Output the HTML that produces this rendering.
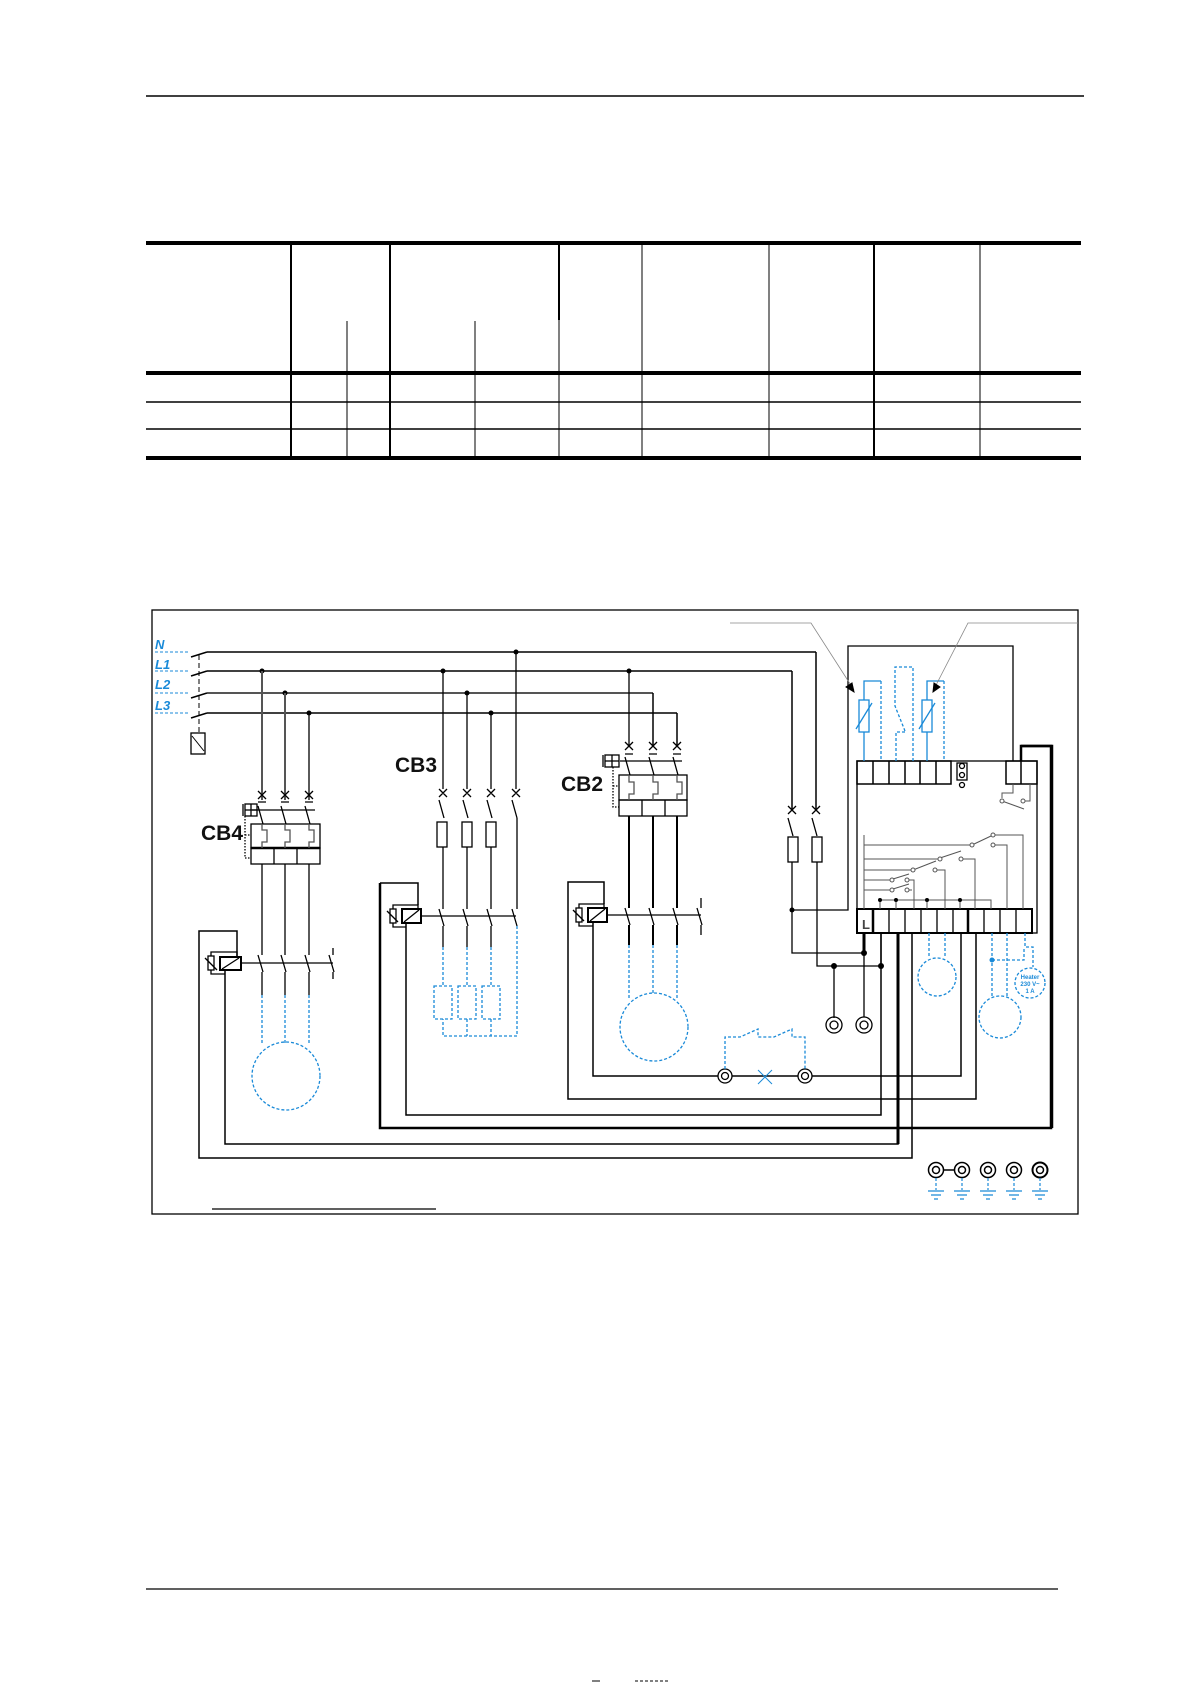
<!DOCTYPE html>
<html><head><meta charset="utf-8"><style>
html,body{margin:0;padding:0;background:#fff}
svg{display:block}
text{font-family:"Liberation Sans",Arial,sans-serif}
</style></head><body>
<svg width="1191" height="1685" viewBox="0 0 1191 1685" xmlns="http://www.w3.org/2000/svg">
<g stroke="#000" fill="none">
<!-- header line -->
<line x1="146" y1="96" x2="1084" y2="96" stroke-width="1.5"/>
<!-- table -->
<line x1="146" y1="243" x2="1081" y2="243" stroke-width="4"/>
<line x1="146" y1="373" x2="1081" y2="373" stroke-width="4"/>
<line x1="146" y1="402" x2="1081" y2="402" stroke-width="1.5"/>
<line x1="146" y1="429" x2="1081" y2="429" stroke-width="1.5"/>
<line x1="146" y1="458" x2="1081" y2="458" stroke-width="4"/>
<g stroke-width="2">
<line x1="291" y1="243" x2="291" y2="458"/>
<line x1="390" y1="243" x2="390" y2="458"/>
<line x1="559" y1="243" x2="559" y2="320"/>
<line x1="874" y1="243" x2="874" y2="458"/>
</g>
<g stroke-width="1">
<line x1="347" y1="321" x2="347" y2="458"/>
<line x1="475" y1="321" x2="475" y2="458"/>
<line x1="559" y1="320" x2="559" y2="458"/>
<line x1="642" y1="243" x2="642" y2="458"/>
<line x1="769" y1="243" x2="769" y2="458"/>
<line x1="980" y1="243" x2="980" y2="458"/>
</g>
<!-- frame -->
<rect x="152" y="610" width="926" height="604" stroke-width="1.3"/>
<line x1="212" y1="1209" x2="436" y2="1209" stroke-width="1.3"/>
<!-- bottom line -->
<line x1="146" y1="1589" x2="1058" y2="1589" stroke-width="1.3"/>
<line x1="592" y1="1681" x2="600" y2="1681" stroke-width="1"/>
<line x1="635" y1="1681" x2="670" y2="1681" stroke-width="1" stroke-dasharray="3,2"/>

<!-- supply lines -->
<g stroke-width="1.5">
<line x1="207" y1="652" x2="816" y2="652"/><line x1="816" y1="652" x2="816" y2="810"/>
<line x1="207" y1="671" x2="792" y2="671"/><line x1="792" y1="671" x2="792" y2="810"/>
<line x1="207" y1="693" x2="653" y2="693" stroke="#555" stroke-width="2"/><line x1="653" y1="693" x2="653" y2="745"/>
<line x1="207" y1="713" x2="677" y2="713"/><line x1="677" y1="713" x2="677" y2="745"/>
<line x1="191" y1="657" x2="207" y2="652"/><line x1="191" y1="676" x2="207" y2="671"/>
<line x1="191" y1="698" x2="207" y2="693"/><line x1="191" y1="718" x2="207" y2="713"/>
</g>
<line x1="199" y1="655" x2="199" y2="733" stroke-dasharray="5,3"/>
<rect x="191" y="733" width="14" height="21" stroke-width="1.3"/>
<line x1="192" y1="736" x2="204" y2="751"/>
<g fill="#000" stroke="none">
<circle cx="262" cy="671" r="2.5"/><circle cx="285" cy="693" r="2.5"/><circle cx="309" cy="713" r="2.5"/>
<circle cx="443" cy="671" r="2.5"/><circle cx="467" cy="693" r="2.5"/><circle cx="491" cy="713" r="2.5"/><circle cx="516" cy="652" r="2.5"/>
<circle cx="629" cy="671" r="2.5"/>
<circle cx="792" cy="910" r="2.5"/><circle cx="864" cy="953" r="3"/><circle cx="834" cy="966" r="3"/><circle cx="881" cy="966" r="3"/>
</g>

<!-- CB4 -->
<g stroke-width="1.3">
<line x1="262" y1="671" x2="262" y2="800" stroke="#555" stroke-width="2"/>
<line x1="285" y1="693" x2="285" y2="800" stroke="#555" stroke-width="2"/>
<line x1="309" y1="713" x2="309" y2="800"/>
<path d="M258 791l8 8M266 791l-8 8M281 791l8 8M289 791l-8 8M305 791l8 8M313 791l-8 8"/>
<path d="M258 802h8M281 802h8M305 802h8"/>
<path d="M258 806l5 18M281 806l5 18M305 806l5 18"/>
<line x1="252" y1="810" x2="315" y2="810"/>
<rect x="245" y="804" width="12" height="12"/><line x1="251" y1="804" x2="251" y2="816"/><line x1="245" y1="810" x2="257" y2="810"/><line x1="243" y1="804" x2="243" y2="816"/>
<rect x="251" y="824" width="69" height="24"/>
<rect x="251" y="848" width="69" height="16"/><line x1="251" y1="848" x2="320" y2="848" stroke-width="2.5"/>
<line x1="274" y1="848" x2="274" y2="864"/><line x1="297" y1="848" x2="297" y2="864"/>
<path d="M262 824v6h5v12h-5v6M285 824v6h5v12h-5v6M309 824v6h5v12h-5v6" stroke="#555"/>
<path d="M245 816v42h6M245 835h6" stroke-dasharray="1.5,1.5"/>
<line x1="262" y1="864" x2="262" y2="955"/><line x1="285" y1="864" x2="285" y2="955"/><line x1="309" y1="864" x2="309" y2="955"/>
<path d="M258 955l5 17M281 955l5 17M305 955l5 17M329 955l5 17M333 948v7M333 972v7"/>
<line x1="241" y1="963" x2="333" y2="963"/>
<line x1="262" y1="972" x2="262" y2="995"/><line x1="285" y1="972" x2="285" y2="995"/><line x1="309" y1="972" x2="309" y2="995"/>
<rect x="220" y="957" width="21" height="13" stroke-width="2"/><line x1="222" y1="969" x2="239" y2="958"/>
<rect x="208" y="956" width="6" height="14"/><line x1="205" y1="958" x2="217" y2="970"/>
<path d="M211 956v-4h26v5M211 970v4h14"/>
<path d="M237 957v-26h-38v227h713v-225" stroke-width="1.5"/>
<path d="M225 970v174h673v-211" stroke-width="1.5"/>
</g>
<line x1="898" y1="933" x2="898" y2="1144" stroke-width="3"/>
<g stroke="#1a8ad8" stroke-width="1.3" stroke-dasharray="3,2">
<path d="M262 995v48M285 995v48M309 995v48"/>
<circle cx="286" cy="1076" r="34"/>
</g>

<!-- CB3 -->
<g stroke-width="1.3">
<line x1="443" y1="671" x2="443" y2="789"/><line x1="467" y1="693" x2="467" y2="789"/><line x1="491" y1="713" x2="491" y2="789"/><line x1="516" y1="652" x2="516" y2="789"/>
<path d="M439 789l8 8M447 789l-8 8M463 789l8 8M471 789l-8 8M487 789l8 8M495 789l-8 8M512 789l8 8M520 789l-8 8"/>
<path d="M439 800l5 18M463 800l5 18M487 800l5 18M512 800l5 18"/>
<rect x="437" y="822" width="10" height="25"/><rect x="462" y="822" width="10" height="25"/><rect x="486" y="822" width="10" height="25"/>
<line x1="443" y1="847" x2="443" y2="909"/><line x1="467" y1="847" x2="467" y2="909"/><line x1="491" y1="847" x2="491" y2="909"/><line x1="517" y1="818" x2="517" y2="909"/>
<path d="M439 909l5 17M463 909l5 17M487 909l5 17M512 909l5 17"/>
<line x1="421" y1="916" x2="516" y2="916"/>
<path d="M443 926v21M467 926v21M491 926v21"/>
<rect x="402" y="909" width="19" height="14" stroke-width="2"/><line x1="404" y1="922" x2="419" y2="910"/>
<rect x="390" y="909" width="6" height="14"/><line x1="387" y1="911" x2="398" y2="922"/>
<path d="M393 909v-4h25v4M393 923v4h13"/>
<path d="M418 905v-22h-38" stroke-width="1.5"/>
<path d="M380 883v245h671v-382h-30" stroke-width="2.5"/>
<path d="M406 923v192h475v-182" stroke-width="1.5"/>
</g>
<g stroke="#1a8ad8" stroke-width="1.3" stroke-dasharray="3,2">
<path d="M443 947v39M467 947v39M491 947v39M517 926v110H443v-17M467 1019v17M491 1019v17"/>
<rect x="434" y="986" width="18" height="33"/><rect x="458" y="986" width="18" height="33"/><rect x="482" y="986" width="18" height="33"/>
</g>

<!-- CB2 -->
<g stroke-width="1.3">
<line x1="629" y1="671" x2="629" y2="745"/>
<path d="M625 742l8 8M633 742l-8 8M649 742l8 8M657 742l-8 8M673 742l8 8M681 742l-8 8M625 754h8M649 754h8M673 754h8"/>
<path d="M625 757l5 18M649 757l5 18M673 757l5 18"/>
<line x1="620" y1="761" x2="682" y2="761"/>
<rect x="605" y="755" width="14" height="12"/><line x1="612" y1="755" x2="612" y2="767"/><line x1="605" y1="761" x2="619" y2="761"/><line x1="603" y1="755" x2="603" y2="767"/>
<rect x="619" y="775" width="68" height="25"/><rect x="619" y="800" width="68" height="16"/>
<line x1="642" y1="800" x2="642" y2="816"/><line x1="665" y1="800" x2="665" y2="816"/>
<path d="M629 775v7h5v12h-5v6M653 775v7h5v12h-5v6M677 775v7h5v12h-5v6" stroke="#555"/>
<path d="M613 767v40h6M613 786h6" stroke-dasharray="1.5,1.5"/>
<line x1="629" y1="816" x2="629" y2="908" stroke-width="2"/><line x1="653" y1="816" x2="653" y2="908" stroke-width="2"/><line x1="677" y1="816" x2="677" y2="908" stroke-width="2"/>
<path d="M625 908l5 17M649 908l5 17M673 908l5 17M697 908l5 17M701 898v10M701 925v10"/>
<line x1="608" y1="915" x2="701" y2="915"/>
<path d="M629 925v20M653 925v20M677 925v20" stroke-width="2"/>
<rect x="588" y="908" width="19" height="14" stroke-width="2"/><line x1="590" y1="921" x2="605" y2="909"/>
<rect x="576" y="908" width="6" height="14"/><line x1="573" y1="910" x2="584" y2="921"/>
<path d="M579 908v-4h25v4M579 922v4h14"/>
<path d="M604 904v-22h-36v217h408v-166" stroke-width="1.5"/>
<path d="M593 922v154h125M732 1076h66M812 1076h149v-143" stroke-width="1.5"/>
<circle cx="725" cy="1076" r="7"/><circle cx="725" cy="1076" r="3.5"/>
<circle cx="805" cy="1076" r="7"/><circle cx="805" cy="1076" r="3.5"/>
</g>
<g stroke="#1a8ad8" stroke-width="1.3" stroke-dasharray="3,2">
<path d="M629 945v55M653 945v50M677 945v55"/>
<circle cx="654" cy="1027" r="34"/>
<path d="M725 1069v-32h15l18-8v8h16l18-8v8h13v32"/>
</g>
<path d="M758 1070l14 14M772 1070l-14 14" stroke="#1a8ad8" stroke-width="1" fill="none"/>

<!-- right fuses -->
<g stroke-width="1.3">
<path d="M788 806l8 8M796 806l-8 8M812 806l8 8M820 806l-8 8"/>
<path d="M788 818l5 18M812 818l5 18"/>
<rect x="788" y="837" width="10" height="25"/><rect x="812" y="837" width="10" height="25"/>
<path d="M792 862v91h72M817 862v104h64"/>
<path d="M792 910h56V646h165v115"/>
<path d="M834 966v52M881 966v-33"/>
<circle cx="834" cy="1025" r="8"/><circle cx="834" cy="1025" r="4"/>
<circle cx="864" cy="1025" r="8"/><circle cx="864" cy="1025" r="4"/>
<line x1="864" y1="953" x2="864" y2="1017"/>
</g>
<line x1="864" y1="933" x2="864" y2="953" stroke-width="3"/>

<!-- controller -->
<g stroke-width="1.3">
<rect x="857" y="761" width="180" height="172"/>
<g stroke-width="1.5">
<rect x="857" y="761" width="94" height="23"/>
<path d="M873 761v23M889 761v23M905 761v23M920 761v23M936 761v23"/>
<rect x="1006" y="761" width="31" height="23"/><line x1="1021" y1="761" x2="1021" y2="784"/>
</g>
<rect x="957" y="763" width="10" height="17"/>
<circle cx="962" cy="766" r="2.5"/><circle cx="962" cy="775" r="2.5"/><circle cx="962" cy="785" r="2.5"/>
<path d="M1021 761v-15h31v382" stroke-width="2.5"/>
<rect x="857" y="909" width="175" height="24" stroke-width="2"/>
<path d="M889 909v24M905 909v24M921 909v24M937 909v24M953 909v24M984 909v24M1000 909v24M1016 909v24"/>
<path d="M873 909v24M968 909v24" stroke-width="2.5"/>
</g>
<text x="862" y="929" font-size="13" font-weight="bold" fill="#444" stroke="none">L</text>
<g stroke="#555" stroke-width="1" fill="none">
<path d="M1013 784v9h-11v5M1030 784v17h-5M1002 801l22 8"/>
<circle cx="1002" cy="801" r="2" fill="#fff"/><circle cx="1023" cy="801" r="2" fill="#fff"/>
<path d="M864 835v74"/>
<path d="M864 845h106M972 845l19-9M995 835h28v74M995 845h12v64"/>
<path d="M864 859h74M940 858l21-7M963 859h12v50"/>
<path d="M864 870h47M913 870l23-9M937 870h8v39"/>
<path d="M864 880h26M893 879l16-5M909 880h5v29"/>
<path d="M864 890h26M893 889l16-5M909 890h3"/>
<path d="M880 900h111v9M880 900v9M896 900v9M927 900v9M960 900v9"/>
<g fill="#fff"><circle cx="972" cy="845" r="2"/><circle cx="993" cy="835" r="2"/><circle cx="993" cy="845" r="2"/>
<circle cx="940" cy="859" r="2"/><circle cx="961" cy="859" r="2"/><circle cx="913" cy="870" r="2"/><circle cx="935" cy="870" r="2"/>
<circle cx="892" cy="880" r="2"/><circle cx="907" cy="880" r="2"/><circle cx="892" cy="890" r="2"/><circle cx="907" cy="890" r="2"/></g>
</g>
<g fill="#000" stroke="none"><circle cx="880" cy="900" r="2"/><circle cx="896" cy="900" r="2"/><circle cx="927" cy="900" r="2"/><circle cx="960" cy="900" r="2"/></g>

<!-- sensors -->
<g stroke="#1a8ad8" stroke-width="1.3">
<path d="M864 761v-29M864 700v-19h17"/>
<rect x="859" y="700" width="10" height="32"/><line x1="856" y1="729" x2="872" y2="703"/>
<path d="M927 761v-29M927 700v-19h17"/>
<rect x="922" y="700" width="10" height="32"/><line x1="919" y1="729" x2="935" y2="703"/>
</g>
<g stroke="#1a8ad8" stroke-width="1.3" stroke-dasharray="3,2">
<path d="M881 681v80M944 681v80"/>
<path d="M896 761v-29h9M913 761v-94h-18v39l10 25"/>
<path d="M929 933v25M945 933v25"/><circle cx="937" cy="977" r="19"/>
<path d="M992 933v63M1007 933v63M992 960h32v-13M1025 933v14h8v20"/>
<circle cx="1000" cy="1017" r="21"/><circle cx="1030" cy="983" r="15"/>
</g>
<circle cx="992" cy="960" r="2.5" fill="#1a8ad8" stroke="none"/>
<g fill="#1a8ad8" font-size="6" font-weight="bold" text-anchor="middle" stroke="none">
<text x="1030" y="979">Heater</text><text x="1030" y="986">230 V~</text><text x="1030" y="993">1 A</text></g>

<!-- annotation arrows -->
<g stroke="#888" stroke-width="0.8">
<path d="M730 623h81l43 67"/><path d="M1078 623h-110l-34 66"/>
</g>
<path d="M854 692l-8-5 6-4z" fill="#000" stroke="#000"/><path d="M933 692l1-9 6 4z" fill="#000" stroke="#000"/>

<!-- grounds -->
<g stroke-width="1.5">
<circle cx="936" cy="1170" r="7.5"/><circle cx="936" cy="1170" r="3.5"/>
<circle cx="962" cy="1170" r="7.5"/><circle cx="962" cy="1170" r="3.5"/>
<circle cx="988" cy="1170" r="7.5"/><circle cx="988" cy="1170" r="3.5"/>
<circle cx="1014" cy="1170" r="7.5"/><circle cx="1014" cy="1170" r="3.5"/>
<circle cx="1040" cy="1170" r="7.5" stroke-width="2"/><circle cx="1040" cy="1170" r="3.5"/>
<line x1="943" y1="1170" x2="955" y2="1170"/>
</g>
<g stroke="#1a8ad8" stroke-width="1.2">
<g stroke-dasharray="3,2"><path d="M936 1178v12M962 1178v12M988 1178v12M1014 1178v12M1040 1178v12"/></g>
<path d="M928 1191h16M931 1195h10M934 1199h4M954 1191h16M957 1195h10M960 1199h4M980 1191h16M983 1195h10M986 1199h4M1006 1191h16M1009 1195h10M1012 1199h4M1032 1191h16M1035 1195h10M1038 1199h4"/>
</g>
</g>

<!-- labels -->
<g fill="#1a8ad8" font-size="13" font-weight="bold" font-style="italic">
<text x="155" y="649">N</text><text x="155" y="669">L1</text><text x="155" y="689">L2</text><text x="155" y="710">L3</text></g>
<g stroke="#1a8ad8" stroke-dasharray="3,2" stroke-width="1"><path d="M155 652h35M155 671h35M155 693h35M155 713h35"/></g>
<g font-size="21" font-weight="bold" fill="#111">
<text x="201" y="840">CB4</text><text x="395" y="772">CB3</text><text x="561" y="791">CB2</text></g>
</svg>
</body></html>
